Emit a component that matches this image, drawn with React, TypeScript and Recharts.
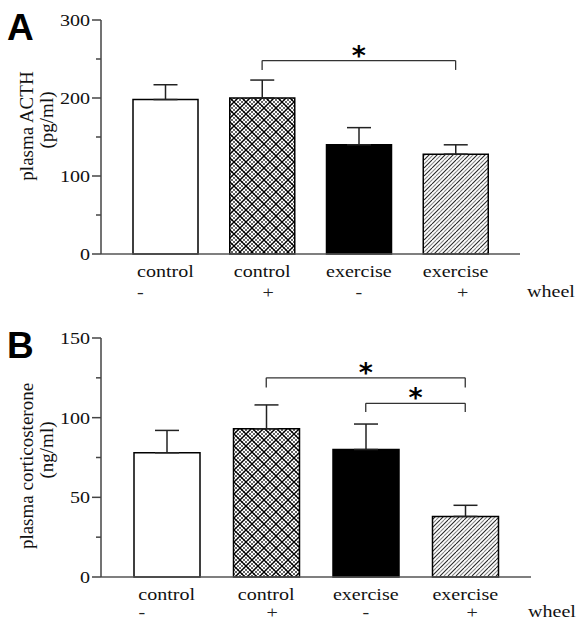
import React from 'react';
import { BarChart, Bar, XAxis, YAxis, ErrorBar, Cell, ReferenceLine, Label } from 'recharts';

const groupKeys = ['c-', 'c+', 'e-', 'e+'];
const groupLabels = ['control', 'control', 'exercise', 'exercise'];
const wheelLabels = ['-', '+', '-', '+'];

const acthMean = [198, 200, 140, 128];
const acthSem = [19, 23, 22, 12];
const cortMean = [78, 93, 80, 38];
const cortSem = [14, 15, 16, 7];

const acthTicks = [0, 50, 100, 150, 200, 250, 300];
const cortTicks = [0, 25, 50, 75, 100, 125, 150];

const acthBrackets = [{ from: 'c+', to: 'e+', y: 248, drop: 236 }];
const cortBrackets = [
  { from: 'c+', to: 'e+', y: 125, drop: 119 },
  { from: 'e-', to: 'e+', y: 109, drop: 103.5 },
];

const acthData = groupKeys.map((k, i) => ({ key: k, mean: acthMean[i], err: [0, acthSem[i]] }));
const cortData = groupKeys.map((k, i) => ({ key: k, mean: cortMean[i], err: [0, cortSem[i]] }));

const SERIF = '"Liberation Serif", "Times New Roman", serif';
const SANS = '"Liberation Sans", Arial, sans-serif';
const wheelDx = [-25, 6, 0, 7];

const makeYTick = (step: number) => (props: any) => {
  const { x, y, payload } = props;
  const v = payload.value;
  const major = v % step === 0;
  return (
    <g>
      <line x1={x - (major ? 9 : 5)} x2={x} y1={y} y2={y} stroke="#444" strokeWidth={1.5} />
      {major && (
        <text
          transform={`translate(${x - 11},${y}) scale(1.18,1)`}
          textAnchor="end"
          dy="0.36em"
          style={{ fontFamily: SERIF, fontSize: 17 }}
          fill="#111"
        >
          {v}
        </text>
      )}
    </g>
  );
};

const makeXTick = (signDy: number) => (props: any) => {
  const { x, y, payload } = props;
  const i = groupKeys.indexOf(payload.value);
  return (
    <g>
      <text
        transform={`translate(${x},${y + 23}) scale(1.18,1)`}
        textAnchor="middle"
        style={{ fontFamily: SERIF, fontSize: 17 }}
        fill="#111"
      >
        {groupLabels[i]}
      </text>
      <text
        transform={`translate(${x + wheelDx[i]},${y + signDy}) scale(1.18,1)`}
        textAnchor="middle"
        style={{ fontFamily: SERIF, fontSize: 17 }}
        fill="#222"
      >
        {wheelLabels[i]}
      </text>
    </g>
  );
};

const wheelLabel = (dx: number, dy: number) => (props: any) => {
  const vb = props.viewBox || {};
  return (
    <text
      transform={`translate(${vb.x + vb.width + dx},${vb.y + dy}) scale(1.18,1)`}
      textAnchor="start"
      style={{ fontFamily: SERIF, fontSize: 17 }}
      fill="#111"
    >
      wheel
    </text>
  );
};

const yLabel = (letter: string, letterY: number, l1: string, l1y: number, l2: string, l2y: number) => () => (
  <g>
    <text x={7} y={letterY} style={{ fontFamily: SANS, fontWeight: 'bold', fontSize: 37 }} fill="#000">
      {letter}
    </text>
    <text
      transform={`translate(26,${l1y}) rotate(-90)`}
      textAnchor="middle"
      dominantBaseline="central"
      style={{ fontFamily: SERIF, fontSize: 19 }}
      fill="#111"
    >
      {l1}
    </text>
    <text
      transform={`translate(46,${l2y}) rotate(-90)`}
      textAnchor="middle"
      dominantBaseline="central"
      style={{ fontFamily: SERIF, fontSize: 19 }}
      fill="#111"
    >
      {l2}
    </text>
  </g>
);

const starLabel = (props: any) => {
  const vb = props.viewBox || {};
  return (
    <text
      x={vb.x + vb.width / 2}
      y={vb.y + 4}
      textAnchor="middle"
      style={{ fontFamily: '"DejaVu Sans", sans-serif', fontWeight: 'bold', fontSize: 27 }}
      fill="#000"
    >
      *
    </text>
  );
};

const renderBrackets = (list: any[]) =>
  list.flatMap((b, i) => [
    <ReferenceLine
      key={`h${i}`}
      segment={[{ x: b.from, y: b.y }, { x: b.to, y: b.y }]}
      stroke="#333"
      strokeWidth={1.3}
      label={<Label content={starLabel} />}
    />,
    <ReferenceLine
      key={`l${i}`}
      segment={[{ x: b.from, y: b.drop }, { x: b.from, y: b.y }]}
      stroke="#333"
      strokeWidth={1.3}
    />,
    <ReferenceLine
      key={`r${i}`}
      segment={[{ x: b.to, y: b.drop }, { x: b.to, y: b.y }]}
      stroke="#333"
      strokeWidth={1.3}
    />,
  ]);

const Patterns = ({ id }: { id: string }) => {
  const cs = [0, 4, 8, 12, 16, 20, 24];
  const ds = [-12, -8, -4, 0, 4, 8, 12];
  return (
    <defs>
      <pattern id={`cross${id}`} patternUnits="userSpaceOnUse" width={12} height={12}>
        <rect x={0} y={0} width={12} height={12} fill="#fff" />
        {cs.map((c) => (
          <line
            key={`a${c}`}
            x1={c}
            y1={0}
            x2={c - 12}
            y2={12}
            stroke={c % 12 === 0 ? '#000' : '#555'}
            strokeWidth={c % 12 === 0 ? 1.3 : 0.9}
          />
        ))}
        {ds.map((d) => (
          <line
            key={`b${d}`}
            x1={0}
            y1={d}
            x2={12}
            y2={d + 12}
            stroke={d % 12 === 0 ? '#000' : '#555'}
            strokeWidth={d % 12 === 0 ? 1.3 : 0.9}
          />
        ))}
      </pattern>
      <pattern id={`diag${id}`} patternUnits="userSpaceOnUse" width={8} height={8}>
        <rect x={0} y={0} width={8} height={8} fill="#fff" />
        {[0, 4, 8, 12, 16].map((c) => (
          <line
            key={c}
            x1={c}
            y1={0}
            x2={c - 8}
            y2={8}
            stroke={c % 8 === 0 ? '#222' : '#888'}
            strokeWidth={1.1}
          />
        ))}
      </pattern>
    </defs>
  );
};

const Panel = (p: any) => (
  <BarChart
    width={578}
    height={p.height}
    data={p.data}
    margin={{ top: p.top, right: p.right, left: 61, bottom: p.bottom }}
  >
    <Patterns id={p.id} />
    <XAxis
      dataKey="key"
      type="category"
      padding={{ left: 16, right: 16 }}
      height={p.xh}
      tickLine={false}
      tickSize={0}
      tickMargin={0}
      tick={makeXTick(p.signDy)}
      interval={0}
      axisLine={{ stroke: '#555', strokeWidth: 1.5 }}
      label={<Label content={wheelLabel(p.wheelDx, p.signDy - 1)} />}
    />
    <YAxis
      type="number"
      domain={p.domain}
      ticks={p.ticks}
      width={40}
      interval={0}
      tickLine={false}
      tickSize={0}
      tickMargin={0}
      tick={makeYTick(p.step)}
      axisLine={{ stroke: '#444', strokeWidth: 1.5 }}
      label={<Label content={p.yl} />}
    />
    <Bar dataKey="mean" barSize={p.barSize} stroke="#000" strokeWidth={1.5} isAnimationActive={false}>
      {p.data.map((d: any, i: number) => (
        <Cell key={d.key} fill={['#fff', `url(#cross${p.id})`, '#000', `url(#diag${p.id})`][i]} />
      ))}
      <ErrorBar dataKey="err" direction="y" width={12} stroke="#222" strokeWidth={1.5} isAnimationActive={false} />
    </Bar>
    {renderBrackets(p.brackets)}
  </BarChart>
);

export default function App() {
  return (
    <div style={{ position: 'absolute', left: 0, top: 0, width: 578, height: 623, background: '#fff' }}>
      <div style={{ position: 'absolute', left: 0, top: 0 }}>
        <Panel
          id="A"
          height={320}
          top={20}
          right={58}
          bottom={16}
          xh={50}
          data={acthData}
          domain={[0, 300]}
          ticks={acthTicks}
          step={100}
          barSize={65}
          brackets={acthBrackets}
          wheelDx={7}
          signDy={44}
          yl={yLabel('A', 40, 'plasma ACTH', 126, '(pg/ml)', 120)}
        />
      </div>
      <div style={{ position: 'absolute', left: 0, top: 320 }}>
        <Panel
          id="B"
          height={303}
          top={18}
          right={47}
          bottom={6}
          xh={40}
          data={cortData}
          domain={[0, 150]}
          ticks={cortTicks}
          step={50}
          barSize={66}
          brackets={cortBrackets}
          wheelDx={-3}
          signDy={41}
          yl={yLabel('B', 38, 'plasma corticosterone', 146, '(ng/ml)', 130)}
        />
      </div>
    </div>
  );
}
